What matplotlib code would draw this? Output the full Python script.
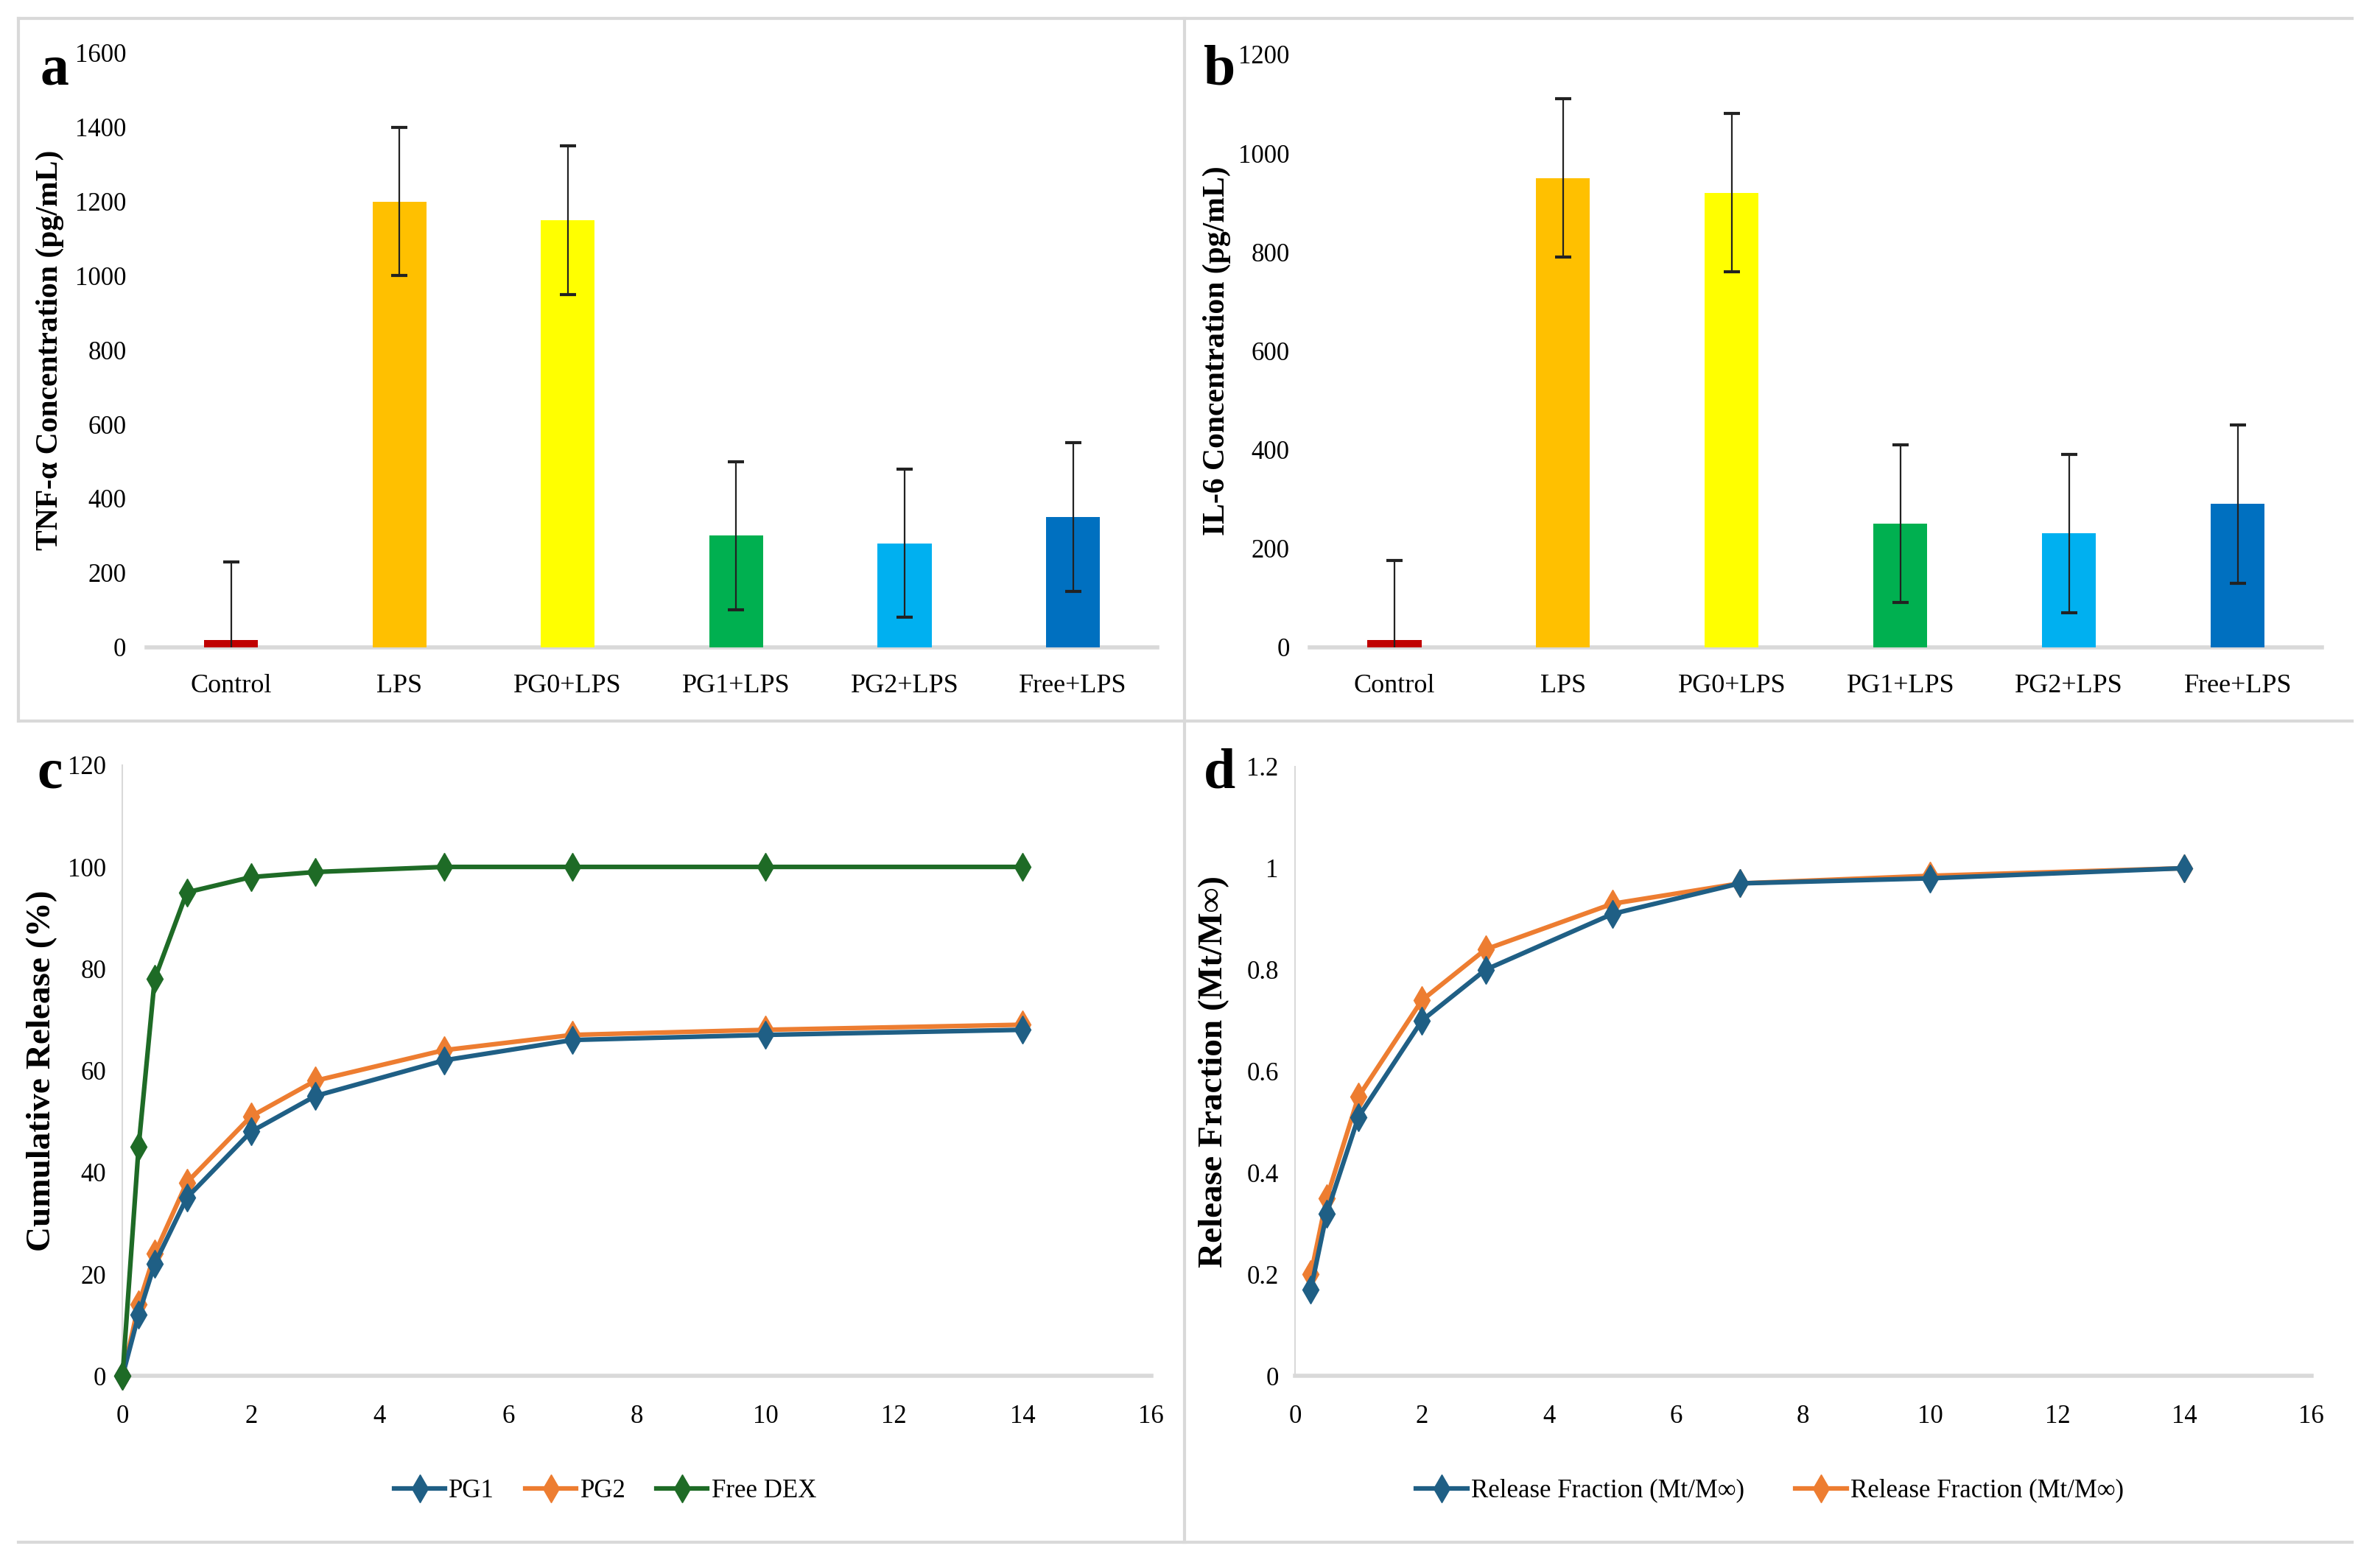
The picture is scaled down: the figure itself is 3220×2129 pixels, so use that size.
import matplotlib
matplotlib.use("Agg")
import matplotlib.pyplot as plt
from matplotlib.lines import Line2D
import numpy as np

plt.rcParams['font.family'] = ['Liberation Serif', 'DejaVu Serif']

# ---------------- data ----------------
categories = ["Control", "LPS", "PG0+LPS", "PG1+LPS", "PG2+LPS", "Free+LPS"]
bar_colors = ["#C00000", "#FFC000", "#FFFF00", "#00B050", "#00B0F0", "#0070C0"]

tnf_values = [20, 1200, 1150, 300, 280, 350]
tnf_errors = [210, 200, 200, 200, 200, 200]

il6_values = [15, 950, 920, 250, 230, 290]
il6_errors = [160, 160, 160, 160, 160, 160]

time_c = [0, 0.25, 0.5, 1, 2, 3, 5, 7, 10, 14]
pg1_release = [0, 12, 22, 35, 48, 55, 62, 66, 67, 68]
pg2_release = [0, 14, 24, 38, 51, 58, 64, 67, 68, 69]
free_dex_release = [0, 45, 78, 95, 98, 99, 100, 100, 100, 100]

time_d = [0.25, 0.5, 1, 2, 3, 5, 7, 10, 14]
pg1_fraction = [0.17, 0.32, 0.51, 0.70, 0.80, 0.91, 0.97, 0.98, 1.0]
pg2_fraction = [0.20, 0.35, 0.55, 0.74, 0.84, 0.93, 0.97, 0.985, 1.0]

c_yticks = [0, 20, 40, 60, 80, 100, 120]
d_yticks = [0, 0.2, 0.4, 0.6, 0.8, 1.0, 1.2]
x_ticks = [0, 2, 4, 6, 8, 10, 12, 14, 16]

col_pg1 = "#1F5F85"
col_pg2 = "#ED7D31"
col_dex = "#1E6B26"
gray = "#D9D9D9"

# ---------------- figure ----------------
fig = plt.figure(figsize=(32.2, 21.29), dpi=100)

W, H = 1568.0, 1037.0
def rect(l, r, t, b):
    return [l / W, 1 - b / H, (r - l) / W, (b - t) / H]

tick_fs = 25
cat_fs = 26
ylab_fs = 30
letter_fs = 56


def bar_panel(ax, values, errors, ymax, ystep, ylabel, labx):
    x = np.arange(len(categories))
    ax.bar(x, values, width=0.32, color=bar_colors, zorder=2)
    ax.errorbar(x, values, yerr=errors, fmt='none', ecolor='#222222',
                elinewidth=1.6, capsize=8, capthick=3, zorder=3)
    ax.set_xlim(-0.5, len(categories) - 0.5)
    ax.set_ylim(0, ymax)
    ax.set_yticks(np.arange(0, ymax + 1, ystep))
    ax.set_xticks(x)
    ax.set_xticklabels(categories, fontsize=cat_fs)
    ax.tick_params(axis='y', labelsize=tick_fs, length=0, pad=20)
    ax.tick_params(axis='x', length=0, pad=26)
    for s in ['top', 'right', 'left']:
        ax.spines[s].set_visible(False)
    ax.spines['bottom'].set_color(gray)
    ax.spines['bottom'].set_linewidth(4)
    ax.spines['bottom'].set_zorder(1)
    ax.set_ylabel(ylabel, fontsize=ylab_fs, fontweight='bold')
    ax.yaxis.set_label_coords(labx, 0.5)


def line_axes_style(ax, yticks, ylabel, labx):
    ax.set_xlim(0, 16)
    ax.set_ylim(yticks[0], yticks[-1])
    ax.set_xticks(x_ticks)
    ax.set_yticks(yticks)
    ax.yaxis.set_major_formatter(matplotlib.ticker.FormatStrFormatter('%g'))
    ax.tick_params(axis='both', labelsize=tick_fs, length=0)
    ax.tick_params(axis='y', pad=16)
    ax.tick_params(axis='x', pad=28)
    for s in ['top', 'right']:
        ax.spines[s].set_visible(False)
    ax.spines['left'].set_color(gray)
    ax.spines['left'].set_linewidth(1.5)
    ax.spines['bottom'].set_color(gray)
    ax.spines['bottom'].set_linewidth(4)
    ax.set_ylabel(ylabel, fontsize=34, fontweight='bold')
    ax.yaxis.set_label_coords(labx, 0.5)


# Panel a
ax_a = fig.add_axes(rect(97, 765, 35, 428))
bar_panel(ax_a, tnf_values, tnf_errors, 1600, 200,
          "TNF-α Concentration (pg/mL)", -0.082)

# Panel b
ax_b = fig.add_axes(rect(866, 1535, 36, 428))
bar_panel(ax_b, il6_values, il6_errors, 1200, 200,
          "IL-6 Concentration (pg/mL)", -0.078)

# Panel c
ax_c = fig.add_axes(rect(81, 761, 506, 910))
mk = dict(marker='d', markersize=19, linewidth=4.5, clip_on=False)
ax_c.plot(time_c, pg1_release, color=col_pg1, label="PG1", zorder=4, **mk)
ax_c.plot(time_c, pg2_release, color=col_pg2, label="PG2", zorder=3, **mk)
ax_c.plot(time_c, free_dex_release, color=col_dex, label="Free DEX", zorder=5, **mk)
line_axes_style(ax_c, c_yticks, "Cumulative Release (%)", -0.063)
ax_c.legend(loc='center', bbox_to_anchor=(400 / W, 1 - 986 / H),
            bbox_transform=fig.transFigure, ncol=3, frameon=False,
            fontsize=25, handlelength=2.0, handletextpad=0.15,
            columnspacing=1.2)

# Panel d
ax_d = fig.add_axes(rect(856, 1528, 507, 910))
ax_d.plot(time_d, pg1_fraction, color=col_pg1,
          label="Release Fraction (Mt/M∞)", zorder=4, **mk)
ax_d.plot(time_d, pg2_fraction, color=col_pg2,
          label="Release Fraction (Mt/M∞)", zorder=3, **mk)
line_axes_style(ax_d, d_yticks, "Release Fraction (Mt/M∞)", -0.064)
ax_d.legend(loc='center', bbox_to_anchor=(1170 / W, 1 - 986 / H),
            bbox_transform=fig.transFigure, ncol=2, frameon=False,
            fontsize=25, handlelength=2.0, handletextpad=0.15,
            columnspacing=2.0)

# Panel letters
for ch, (px, py) in zip("abcd", [(36, 47), (806, 47), (33, 512), (806, 512)]):
    fig.text(px / W, 1 - py / H, ch, fontsize=letter_fs, fontweight='bold',
             ha='center', va='center')

# Panel borders (light gray frame lines)
def fline(x0, y0, x1, y1):
    fig.add_artist(Line2D([x0 / W, x1 / W], [1 - y0 / H, 1 - y1 / H],
                          transform=fig.transFigure, color=gray, linewidth=3))

fline(12, 12, 1555, 12)
fline(12, 12, 12, 477)
fline(12, 477, 1555, 477)
fline(783, 12, 783, 1020)
fline(12, 1020, 1555, 1020)

fig.savefig("out.png", dpi=100, facecolor='white')
